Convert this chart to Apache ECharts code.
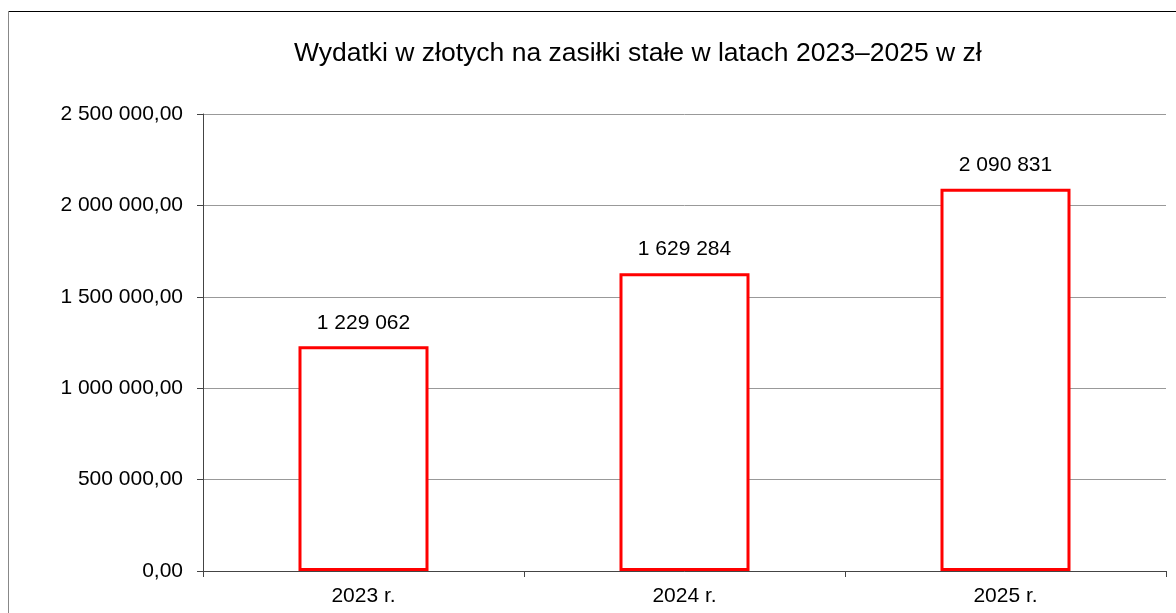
<html>
<head>
    <meta charset="utf-8">
    <title>ECharts</title>
    <script src="https://cdn.jsdelivr.net/npm/echarts@6/dist/echarts.min.js"></script>
</head>
<body style="margin:0">
    <div id="main" style="width: 1176px;height:613px;"></div>
    <script type="text/javascript">
        var myChart = echarts.init(document.getElementById('main'));

        // dane z wykresu
        var years = ['2023 r.', '2024 r.', '2025 r.'];
        var wydatki = [1229062, 1629284, 2090831];

        function spaced(n) {
            return String(n).replace(/\B(?=(\d{3})+(?!\d))/g, ' ');
        }

        var font = 'Liberation Sans, Arial, sans-serif';

        option = {
            animation: false,
            backgroundColor: '#fff',
            title: {
                text: 'Wydatki w złotych na zasiłki stałe w latach 2023–2025 w zł',
                left: 289,
                top: 35,
                textStyle: { fontFamily: font, fontSize: 26.5, fontWeight: 'normal', color: '#000' }
            },
            graphic: [
                { type: 'line', shape: { x1: 8, y1: 11.5, x2: 1176, y2: 11.5 }, style: { stroke: '#000', lineWidth: 1 } },
                { type: 'line', shape: { x1: 8.5, y1: 11, x2: 8.5, y2: 613 }, style: { stroke: '#888', lineWidth: 1 } }
            ],
            grid: { left: 203, right: 10, top: 114, bottom: 42 },
            xAxis: {
                type: 'category',
                data: years,
                axisLine: { lineStyle: { color: '#444', width: 1 } },
                axisTick: { show: true, length: 6, lineStyle: { color: '#444' } },
                axisLabel: { fontFamily: font, fontSize: 21, color: '#000', margin: 15 }
            },
            yAxis: {
                type: 'value',
                min: 0,
                max: 2500000,
                interval: 500000,
                axisLine: { show: true, lineStyle: { color: '#444', width: 1 } },
                axisTick: { show: true, length: 6, lineStyle: { color: '#444' } },
                splitLine: { lineStyle: { color: '#999', width: 1 } },
                axisLabel: {
                    fontFamily: font, fontSize: 21, color: '#000', margin: 20,
                    formatter: function (v) { return spaced(v) + ',00'; }
                }
            },
            series: [{
                type: 'bar',
                data: wydatki,
                barWidth: '40.5%',
                itemStyle: { color: '#fff', borderColor: '#ff0000', borderWidth: 3 },
                label: {
                    show: true,
                    position: 'top',
                    distance: 13,
                    fontFamily: font,
                    fontSize: 21,
                    color: '#000',
                    formatter: function (p) { return spaced(p.value); }
                }
            }]
        };

        myChart.setOption(option);
    </script>
</body>
</html>
